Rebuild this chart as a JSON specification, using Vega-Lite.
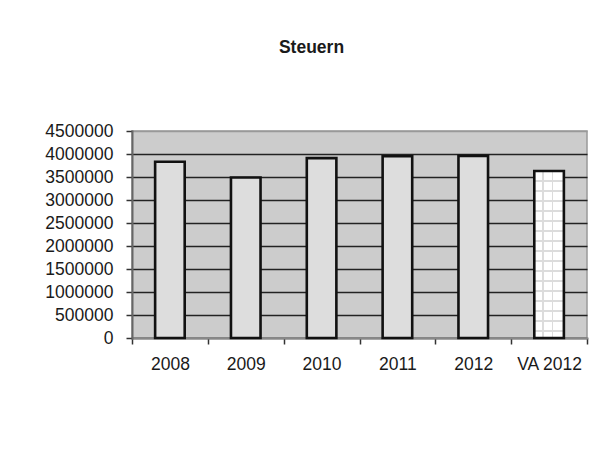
{
  "$schema": "https://vega.github.io/schema/vega-lite/v6.json",
  "autosize": "none",
  "width": 455,
  "height": 207,
  "padding": {"left": 132, "top": 131, "right": 24, "bottom": 121},
  "background": "white",
  "title": {
    "text": "Steuern",
    "anchor": "middle",
    "frame": "group",
    "dx": -48,
    "offset": 52,
    "baseline": "alphabetic",
    "font": "Liberation Sans",
    "fontSize": 17.5,
    "fontWeight": "bold",
    "color": "#1a1a1a"
  },
  "data": {
    "values": [
      {"Jahr": "2008", "Steuern": 3830000},
      {"Jahr": "2009", "Steuern": 3490000},
      {"Jahr": "2010", "Steuern": 3910000},
      {"Jahr": "2011", "Steuern": 3950000},
      {"Jahr": "2012", "Steuern": 3960000},
      {"Jahr": "VA 2012", "Steuern": 3630000}
    ]
  },
  "encoding": {
    "x": {
      "field": "Jahr",
      "type": "nominal",
      "sort": null,
      "scale": {"paddingInner": 0, "paddingOuter": 0},
      "axis": {
        "title": null,
        "labelAngle": 0,
        "tickBand": "extent",
        "tickSize": 6,
        "tickColor": "#333",
        "tickWidth": 1.5,
        "domainColor": "#888",
        "domainWidth": 2,
        "labelPadding": 11,
        "labelFont": "Liberation Sans",
        "labelFontSize": 17.5,
        "labelColor": "#1a1a1a",
        "grid": false
      }
    },
    "y": {
      "field": "Steuern",
      "type": "quantitative",
      "scale": {"domain": [0, 4500000], "nice": false},
      "axis": {
        "title": null,
        "values": [0, 500000, 1000000, 1500000, 2000000, 2500000, 3000000, 3500000, 4000000, 4500000],
        "format": "d",
        "tickSize": 6,
        "tickColor": "#333",
        "tickWidth": 1.5,
        "domainColor": "#666",
        "domainWidth": 2,
        "labelPadding": 13,
        "labelFont": "Liberation Sans",
        "labelFontSize": 17.5,
        "labelColor": "#1a1a1a",
        "grid": true,
        "gridColor": {"condition": {"test": "datum.value == 4500000", "value": "#999"}, "value": "#222222"},
        "gridWidth": 1.4
      }
    }
  },
  "layer": [
    {
      "mark": {"type": "bar", "width": {"band": 0.39}},
      "encoding": {
        "fill": {
          "condition": {"test": "datum.Jahr == 'VA 2012'", "value": "#ffffff"},
          "value": "#dddddd"
        }
      }
    },
    {
      "transform": [{"filter": "datum.Jahr == 'VA 2012'"}],
      "mark": {
        "type": "bar",
        "width": {"band": 0.39},
        "fill": {
          "gradient": "linear",
          "x1": 0, "y1": 0, "x2": 0, "y2": 1,
          "stops": [
            {"offset": 0, "color": "rgba(220,220,220,0)"},
            {"offset": 0.0555, "color": "rgba(220,220,220,0)"}, {"offset": 0.0555, "color": "#dcdcdc"}, {"offset": 0.0645, "color": "#dcdcdc"}, {"offset": 0.0645, "color": "rgba(220,220,220,0)"},
            {"offset": 0.1155, "color": "rgba(220,220,220,0)"}, {"offset": 0.1155, "color": "#dcdcdc"}, {"offset": 0.1245, "color": "#dcdcdc"}, {"offset": 0.1245, "color": "rgba(220,220,220,0)"},
            {"offset": 0.1755, "color": "rgba(220,220,220,0)"}, {"offset": 0.1755, "color": "#dcdcdc"}, {"offset": 0.1845, "color": "#dcdcdc"}, {"offset": 0.1845, "color": "rgba(220,220,220,0)"},
            {"offset": 0.2355, "color": "rgba(220,220,220,0)"}, {"offset": 0.2355, "color": "#dcdcdc"}, {"offset": 0.2445, "color": "#dcdcdc"}, {"offset": 0.2445, "color": "rgba(220,220,220,0)"},
            {"offset": 0.2945, "color": "rgba(220,220,220,0)"}, {"offset": 0.2945, "color": "#dcdcdc"}, {"offset": 0.3035, "color": "#dcdcdc"}, {"offset": 0.3035, "color": "rgba(220,220,220,0)"},
            {"offset": 0.3545, "color": "rgba(220,220,220,0)"}, {"offset": 0.3545, "color": "#dcdcdc"}, {"offset": 0.3635, "color": "#dcdcdc"}, {"offset": 0.3635, "color": "rgba(220,220,220,0)"},
            {"offset": 0.4145, "color": "rgba(220,220,220,0)"}, {"offset": 0.4145, "color": "#dcdcdc"}, {"offset": 0.4235, "color": "#dcdcdc"}, {"offset": 0.4235, "color": "rgba(220,220,220,0)"},
            {"offset": 0.4745, "color": "rgba(220,220,220,0)"}, {"offset": 0.4745, "color": "#dcdcdc"}, {"offset": 0.4835, "color": "#dcdcdc"}, {"offset": 0.4835, "color": "rgba(220,220,220,0)"},
            {"offset": 0.5345, "color": "rgba(220,220,220,0)"}, {"offset": 0.5345, "color": "#dcdcdc"}, {"offset": 0.5435, "color": "#dcdcdc"}, {"offset": 0.5435, "color": "rgba(220,220,220,0)"},
            {"offset": 0.5945, "color": "rgba(220,220,220,0)"}, {"offset": 0.5945, "color": "#dcdcdc"}, {"offset": 0.6035, "color": "#dcdcdc"}, {"offset": 0.6035, "color": "rgba(220,220,220,0)"},
            {"offset": 0.6545, "color": "rgba(220,220,220,0)"}, {"offset": 0.6545, "color": "#dcdcdc"}, {"offset": 0.6635, "color": "#dcdcdc"}, {"offset": 0.6635, "color": "rgba(220,220,220,0)"},
            {"offset": 0.7145, "color": "rgba(220,220,220,0)"}, {"offset": 0.7145, "color": "#dcdcdc"}, {"offset": 0.7235, "color": "#dcdcdc"}, {"offset": 0.7235, "color": "rgba(220,220,220,0)"},
            {"offset": 0.7735, "color": "rgba(220,220,220,0)"}, {"offset": 0.7735, "color": "#dcdcdc"}, {"offset": 0.7825, "color": "#dcdcdc"}, {"offset": 0.7825, "color": "rgba(220,220,220,0)"},
            {"offset": 0.8335, "color": "rgba(220,220,220,0)"}, {"offset": 0.8335, "color": "#dcdcdc"}, {"offset": 0.8425, "color": "#dcdcdc"}, {"offset": 0.8425, "color": "rgba(220,220,220,0)"},
            {"offset": 0.8935, "color": "rgba(220,220,220,0)"}, {"offset": 0.8935, "color": "#dcdcdc"}, {"offset": 0.9025, "color": "#dcdcdc"}, {"offset": 0.9025, "color": "rgba(220,220,220,0)"},
            {"offset": 0.9535, "color": "rgba(220,220,220,0)"}, {"offset": 0.9535, "color": "#dcdcdc"}, {"offset": 0.9625, "color": "#dcdcdc"}, {"offset": 0.9625, "color": "rgba(220,220,220,0)"},
            {"offset": 1, "color": "rgba(220,220,220,0)"}
          ]
        }
      }
    },
    {
      "transform": [{"filter": "datum.Jahr == 'VA 2012'"}],
      "mark": {
        "type": "bar",
        "width": {"band": 0.39},
        "fill": {
          "gradient": "linear",
          "x1": 0, "y1": 0, "x2": 1, "y2": 0,
          "stops": [
            {"offset": 0, "color": "rgba(220,220,220,0)"},
            {"offset": 0.265, "color": "rgba(220,220,220,0)"}, {"offset": 0.265, "color": "#dcdcdc"}, {"offset": 0.315, "color": "#dcdcdc"}, {"offset": 0.315, "color": "rgba(220,220,220,0)"},
            {"offset": 0.595, "color": "rgba(220,220,220,0)"}, {"offset": 0.595, "color": "#dcdcdc"}, {"offset": 0.645, "color": "#dcdcdc"}, {"offset": 0.645, "color": "rgba(220,220,220,0)"},
            {"offset": 1, "color": "rgba(220,220,220,0)"}
          ]
        }
      }
    },
    {
      "mark": {"type": "bar", "width": {"band": 0.39}, "fill": null, "fillOpacity": 0, "stroke": "#111111", "strokeWidth": 2.6}
    }
  ],
  "config": {
    "view": {"fill": "#cccccc", "stroke": "#999999", "strokeWidth": 1.5},
    "axis": {"domainCap": "square"}
  }
}
